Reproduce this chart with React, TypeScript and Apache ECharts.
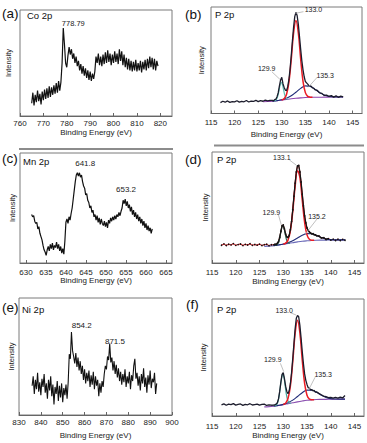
import React, { useEffect, useRef } from "react";
import * as echarts from "echarts";

const FONT = "Liberation Sans, Arial, sans-serif";

// ---------- (a) Co 2p ----------
const coStart = 765;
const coStep = 0.5;
const coY = [
  12, 22, 10, 20, 13, 24, 14, 21, 11, 23, 15, 25, 16, 26, 17, 28, 18, 27, 20, 29, 21, 31, 22, 33, 24, 32,
  50, 83, 68, 50, 46, 57, 65, 58, 63, 54, 59, 50, 56, 47, 52, 43, 49, 40, 47, 38, 45, 36, 43, 34, 42, 33,
  40, 35, 42, 56, 50, 59, 48, 56, 47, 58, 49, 60, 50, 62, 51, 59, 48, 58, 50, 61, 51, 59, 49, 63, 52, 61,
  48, 58, 46, 55, 44, 54, 43, 52, 42, 51, 43, 53, 42, 50, 43, 52, 41, 51, 44, 53, 43, 54, 45, 56, 46, 55,
  44, 54, 43, 52, 47,
];
const coTicks = [760, 770, 780, 790, 800, 810, 820];

// ---------- (c) Mn 2p ----------
const mnStart = 631.4;
const mnStep = 0.26;
const mnY = [
  44, 42, 43, 38, 36, 37, 31, 33, 27, 24, 21, 16, 12, 10, 7, 12, 15, 11, 17, 13, 18, 12, 16, 14,
  19, 13, 17, 11, 15, 9, 13, 8, 20, 37, 40, 36, 42, 39, 45, 50, 58, 66, 74, 80, 82, 79, 82, 78,
  80, 74, 70, 68, 62, 63, 57, 55, 50, 52, 46, 48, 42, 44, 39, 43, 37, 41, 35, 40, 36, 34, 38, 33,
  37, 32, 39, 36, 41, 38, 42, 39, 43, 40, 44, 42, 46, 43, 47, 50, 57, 54, 58, 52, 56, 50, 53, 47,
  51, 44, 48, 42, 46, 40, 44, 38, 42, 36, 40, 34, 38, 32, 36, 30, 34, 29, 32, 27, 31,
];
const mnTicks = [630, 635, 640, 645, 650, 655, 660, 665];

// ---------- (e) Ni 2p ----------
const niStart = 836;
const niStep = 0.5;
const niY = [
  25, 33, 18, 30, 22, 36, 20, 28, 17, 31, 24, 35, 19, 27, 14, 30, 21, 33, 16, 26, 9, 24, 18, 29,
  12, 25, 15, 27, 11, 23, 17, 26, 14, 28, 52, 48, 71, 55, 50, 44, 53, 41, 49, 38, 46, 35, 42, 30,
  39, 27, 36, 29, 38, 24, 34, 26, 37, 22, 33, 25, 30, 16, 27, 19, 29, 24, 35, 42, 39, 50, 47, 61,
  45, 49, 38, 46, 35, 43, 32, 40, 29, 37, 26, 35, 28, 39, 24, 33, 27, 37, 22, 34, 29, 42, 48, 31,
  36, 25, 33, 21, 35, 27, 40, 24, 32, 19, 34, 26, 38, 23, 31, 28, 36, 18, 27,
];
const niTicks = [830, 840, 850, 860, 870, 880, 890, 900];

// ---------- P 2p panels (b), (d), (f) ----------
const pTicks = [115, 120, 125, 130, 135, 140, 145];
const pX = [
  117, 117.5, 118, 118.5, 119, 119.5, 120, 120.5, 121, 121.5, 122, 122.5, 123, 123.5, 124, 124.5, 125, 125.5, 126, 126.5, 127, 127.5,
  128, 128.25, 128.5, 128.75, 129, 129.25, 129.5, 129.75, 130, 130.25, 130.5, 130.75, 131, 131.25, 131.5, 131.75,
  132, 132.25, 132.5, 132.75, 133, 133.25, 133.5, 133.75, 134, 134.25, 134.5, 134.75, 135, 135.25, 135.5, 135.75,
  136, 136.25, 136.5, 136.75, 137,
  137.5, 138, 138.5, 139, 139.5, 140, 140.5, 141, 141.5, 142, 142.5, 143,
];
const bRaw = [
  10.2, 11.5, 10.6, 11.8, 10.4, 11.2, 10.9, 12.0, 10.7, 11.4, 11.0, 12.2, 10.8, 11.6, 11.3, 12.4, 11.1, 12.0, 11.5, 12.6, 11.8, 12.3,
  12.4, 11.9, 13.0, 13.4, 15.8, 19.5, 26.0, 31.5, 34.0, 28.0, 24.5, 22.0, 21.5, 25.0, 31.5, 41.5,
  54.0, 68.0, 81.0, 91.0, 95.0, 92.0, 84.0, 72.5, 60.5, 49.5, 41.0, 34.5, 30.0, 28.8, 27.6, 26.2,
  25.9, 25.4, 24.0, 23.9, 22.5,
  21.8, 19.4, 18.9, 17.0, 17.3, 16.0, 16.8, 15.4, 16.5, 15.2, 16.3, 15.7,
];
const dRaw = [
  16.0, 17.2, 15.8, 16.9, 16.3, 17.5, 15.9, 16.6, 17.1, 15.7, 16.8, 16.2, 17.3, 15.9, 16.7, 16.1, 17.0, 15.8, 16.5, 16.9, 15.6, 16.4,
  16.3, 16.9, 16.6, 17.8, 19.2, 23.0, 28.6, 33.5, 34.2, 30.6, 26.0, 23.5, 23.0, 24.8, 30.0, 37.5,
  48.0, 60.2, 72.0, 82.0, 87.5, 88.0, 82.0, 73.0, 62.0, 51.5, 42.5, 36.2, 31.5, 29.5, 28.0, 27.0,
  26.3, 26.4, 25.5, 25.4, 24.6,
  24.3, 22.6, 22.9, 21.2, 22.0, 20.6, 21.5, 20.3, 21.4, 20.2, 21.3, 20.5,
];
const fRaw = [
  9.5, 10.4, 9.2, 10.1, 9.7, 10.6, 9.3, 9.9, 10.3, 9.1, 10.0, 9.6, 10.5, 9.4, 9.8, 10.2, 9.3, 9.9, 10.1, 9.0, 9.6, 9.2,
  9.4, 9.6, 10.2, 11.3, 14.6, 21.0, 29.0, 35.5, 37.0, 32.0, 25.5, 21.0, 19.0, 21.5, 27.6, 37.0,
  49.0, 62.0, 74.5, 83.5, 86.0, 84.8, 77.5, 66.8, 55.0, 44.6, 36.0, 30.5, 27.0, 24.2, 23.8, 22.4,
  22.6, 21.5, 21.9, 20.5, 20.6,
  19.3, 18.2, 17.0, 16.5, 15.7, 16.0, 15.2, 15.9, 15.3, 16.1, 15.4, 17.5,
];

const redX = [130, 130.5, 131, 131.5, 132, 132.5, 133, 133.5, 134, 134.5, 135, 135.5, 136, 136.5];
const bRed = [12.75, 13.85, 17.8, 28.9, 50.3, 75.45, 87.3, 75.9, 51.2, 30.25, 19.6, 16.05, 15.35, 15.25];
const dRed = [17.0, 17.85, 20.6, 28.95, 46.3, 68.95, 83.1, 77.1, 56.5, 36.5, 25.3, 21.35, 20.5, 20.4];
const fRed = [9.84, 11.0, 14.9, 25.6, 46.15, 70.3, 81.8, 71.05, 47.65, 27.8, 17.8, 14.5, 13.94, 13.95];

const tealX = [128.4, 128.65, 128.9, 129.15, 129.4, 129.65, 129.9, 130.15, 130.4, 130.65, 130.9, 131.15, 131.4];
const bTeal = [11.77, 12.18, 13.37, 16.25, 21.26, 26.7, 29.24, 27.0, 21.86, 17.15, 14.56, 13.64, 13.51];
const dTeal = [15.9, 16.35, 17.6, 20.5, 25.7, 31.25, 33.8, 31.6, 26.4, 21.55, 19.0, 18.05, 17.95];
const fTealX = [128.15, 128.4, 128.65, 128.9, 129.15, 129.4, 129.65, 129.9, 130.15, 130.4, 130.65, 130.9, 131.15, 131.4, 131.65];
const fTeal = [8.56, 8.93, 9.95, 12.48, 17.6, 25.18, 32.56, 35.83, 32.92, 25.92, 18.72, 13.96, 11.77, 11.11, 11.08];

const navyX = [128, 129, 130, 131, 132, 133, 134, 135, 136, 137, 138, 139, 140, 141, 142, 143];
const bNavy = [11.5, 12.1, 12.9, 14.3, 16.6, 20.0, 23.6, 25.9, 25.5, 22.9, 19.7, 17.3, 16.1, 15.6, 15.5, 15.5];
const dNavy = [15.6, 16.25, 17.1, 18.3, 20.1, 22.55, 25.0, 26.5, 26.3, 24.8, 23.0, 21.7, 21.05, 20.85, 20.8, 20.8];
const fNavy = [8.41, 9.06, 9.96, 11.37, 13.55, 16.64, 19.93, 22.1, 22.07, 20.23, 17.74, 15.84, 14.85, 14.5, 14.4, 14.4];

const purpleX = [126, 127, 128, 129, 130, 131, 132, 133, 134, 135, 136, 137, 138, 139, 140, 141, 142, 143];
const bPurple = [11.0, 11.2, 11.5, 12.0, 12.6, 13.2, 13.8, 14.3, 14.7, 15.0, 15.2, 15.25, 15.3, 15.35, 15.4, 15.45, 15.5, 15.5];
const dPurple = [15.0, 15.2, 15.6, 16.2, 16.9, 17.6, 18.3, 19.0, 19.6, 20.0, 20.3, 20.5, 20.6, 20.65, 20.7, 20.75, 20.8, 20.8];
const fPurple = [7.8, 8.0, 8.4, 9.0, 9.7, 10.5, 11.3, 12.1, 12.8, 13.4, 13.8, 14.1, 14.2, 14.25, 14.3, 14.35, 14.4, 14.4];

// peak annotations: [label, x, y] and leader lines [x1, y1, x2, y2]
const aPeaks: [string, number, number][] = [["778.79", 782.8, 87.1]];
const cPeaks: [string, number, number][] = [["641.8", 644.8, 90.6], ["653.2", 655.0, 66.4]];
const ePeaks: [string, number, number][] = [["854.2", 858.7, 76.3], ["871.5", 873.9, 63.2]];
const bPeaks: [string, number, number][] = [["133.0", 136.7, 97.2], ["129.9", 126.8, 42.4], ["135.3", 139.2, 35.7]];
const bLeaders = [[134.6, 95.6, 132.9, 94.1], [127.9, 39.2, 129.6, 32.1], [137.5, 34.0, 135.6, 24.6]];
const dPeaks: [string, number, number][] = [["133.1", 129.7, 95.3], ["129.9", 127.5, 45.9], ["135.2", 137.1, 42.2]];
const dLeaders = [[131.3, 92.8, 132.7, 88.3], [129.0, 43.2, 129.6, 34.2], [137.1, 39.6, 134.6, 25.9]];
const fPeaks: [string, number, number][] = [["133.0", 130.2, 90.3], ["129.9", 127.8, 48.3], ["135.3", 138.4, 35.5]];
const fLeaders = [[131.5, 88.3, 132.7, 86.3], [129.4, 45.0, 130.1, 37.9], [136.7, 33.1, 135.4, 22.8]];

const zip = (xs: number[], ys: number[]) => xs.map((x, i) => [x, ys[i]]);
const grid1 = (start: number, step: number, ys: number[]) => ys.map((y, i) => [start + i * step, y]);

type PanelCfg = {
  grid: { left: number; top: number; width: number; height: number };
  min: number;
  max: number;
  ticks: number[];
  labelMargin: number;
  nameGap: number;
  yNameGap: number;
};

const panels: PanelCfg[] = [
  { grid: { left: 20, top: 10, width: 152, height: 106 }, min: 760, max: 825, ticks: coTicks, labelMargin: 3, nameGap: 12.5, yNameGap: 7.5 },
  { grid: { left: 211, top: 7, width: 151, height: 106.5 }, min: 115, max: 147, ticks: pTicks, labelMargin: 5, nameGap: 16.5, yNameGap: 6 },
  { grid: { left: 20, top: 153, width: 152, height: 110 }, min: 628.5, max: 666.5, ticks: mnTicks, labelMargin: 5, nameGap: 13.5, yNameGap: 4 },
  { grid: { left: 212, top: 152, width: 152, height: 111 }, min: 115, max: 147, ticks: pTicks, labelMargin: 5, nameGap: 14.5, yNameGap: 3 },
  { grid: { left: 19, top: 298, width: 153, height: 117 }, min: 830, max: 900, ticks: niTicks, labelMargin: 3, nameGap: 16.5, yNameGap: 4 },
  { grid: { left: 212, top: 299, width: 152, height: 117 }, min: 115, max: 147, ticks: pTicks, labelMargin: 6, nameGap: 15, yNameGap: 4.5 },
];

const peakMarks = (peaks: [string, number, number][], size: number) => ({
  silent: true,
  symbol: "circle",
  symbolSize: 1,
  itemStyle: { color: "rgba(0,0,0,0)" },
  label: {
    show: true,
    position: "inside",
    formatter: (p: any) => p.name,
    fontSize: size,
    color: "#1a1a1a",
    fontFamily: FONT,
  },
  data: peaks.map(([name, x, y]) => ({ name, coord: [x, y] })),
});

const leaderMarks = (leaders: number[][]) => ({
  silent: true,
  symbol: ["none", "none"],
  label: { show: false },
  lineStyle: { color: "#b0b0b0", width: 0.8, type: "solid" },
  data: leaders.map(([x1, y1, x2, y2]) => [{ coord: [x1, y1] }, { coord: [x2, y2] }]),
});

function lineSeries(i: number, data: number[][], color: string, width: number, extra: any = {}) {
  return {
    type: "line",
    xAxisIndex: i,
    yAxisIndex: i,
    data,
    symbol: "none",
    showSymbol: false,
    silent: true,
    lineStyle: { color, width },
    z: 2,
    ...extra,
  };
}

function buildOption() {
  const grids = panels.map((p) => ({
    ...p.grid,
    show: true,
    borderColor: "#7a7a7a",
    borderWidth: 1,
    backgroundColor: "transparent",
    containLabel: false,
    outerBoundsMode: "none",
  }));
  const xAxes = panels.map((p, i) => ({
    gridIndex: i,
    type: "value",
    min: p.min,
    max: p.max,
    axisLine: { show: true, lineStyle: { color: "#666", width: 1 } },
    axisTick: { show: true, inside: true, length: 3, lineStyle: { color: "#666" }, customValues: p.ticks },
    axisLabel: { show: true, fontSize: 8, color: "#222", margin: p.labelMargin, fontFamily: FONT, customValues: p.ticks },
    splitLine: { show: false },
    name: "Binding Energy (eV)",
    nameLocation: "middle",
    nameGap: p.nameGap,
    nameTextStyle: { fontSize: 8, color: "#222", fontFamily: FONT },
  }));
  const yAxes = panels.map((p, i) => ({
    gridIndex: i,
    type: "value",
    min: 0,
    max: 100,
    axisLine: { show: false },
    axisTick: { show: false },
    axisLabel: { show: false },
    splitLine: { show: false },
    name: "Intensity",
    nameLocation: "middle",
    nameRotate: 90,
    nameGap: p.yNameGap,
    nameTextStyle: { fontSize: 7.5, color: "#222", fontFamily: FONT },
  }));

  const dEnv = zip(pX, dRaw).filter(([x]) => x >= 127.75 && x <= 139.5);

  const series: any[] = [
    // (a)
    lineSeries(0, grid1(coStart, coStep, coY), "#111", 1.2, { markPoint: peakMarks(aPeaks, 7.5) }),
    // (b)
    lineSeries(1, zip(purpleX, bPurple), "#8e44ad", 1.1, { smooth: 0.4 }),
    lineSeries(1, zip(navyX, bNavy), "#1f2a78", 1.1, { smooth: 0.4 }),
    lineSeries(1, zip(tealX, bTeal), "#5dbfb4", 1.2, { smooth: 0.4 }),
    lineSeries(1, zip(redX, bRed), "#ec1c24", 1.5, { smooth: 0.4 }),
    lineSeries(1, zip(pX, bRaw), "#1c1c2c", 1.3, {
      z: 3,
      markPoint: peakMarks(bPeaks, 7),
      markLine: leaderMarks(bLeaders),
    }),
    // (c)
    lineSeries(2, grid1(mnStart, mnStep, mnY), "#111", 1.2, { markPoint: peakMarks(cPeaks, 8) }),
    // (d)
    lineSeries(3, zip(pX, dRaw), "#d9262c", 1.1, {
      symbol: "circle",
      showSymbol: true,
      symbolSize: 1.6,
      itemStyle: { color: "#111", borderWidth: 0 },
      markPoint: peakMarks(dPeaks, 7),
      markLine: leaderMarks(dLeaders),
    }),
    lineSeries(3, zip(purpleX, dPurple), "#6a6ab8", 1.1, { smooth: 0.4 }),
    lineSeries(3, zip(navyX, dNavy), "#1f2a78", 1.1, { smooth: 0.4 }),
    lineSeries(3, zip(tealX, dTeal), "#2c6b55", 1.2, { smooth: 0.4 }),
    lineSeries(3, zip(redX, dRed), "#ec1c24", 1.5, { smooth: 0.4 }),
    lineSeries(3, dEnv, "#161616", 1.3, { z: 3 }),
    // (e)
    lineSeries(4, grid1(niStart, niStep, niY), "#111", 1.1, { markPoint: peakMarks(ePeaks, 8) }),
    // (f)
    lineSeries(5, zip(purpleX, fPurple), "#8a4fb0", 1.1, { smooth: 0.4 }),
    lineSeries(5, zip(navyX, fNavy), "#1f2a78", 1.1, { smooth: 0.4 }),
    lineSeries(5, zip(fTealX, fTeal), "#4aa89c", 1.2, { smooth: 0.4 }),
    lineSeries(5, zip(redX, fRed), "#ec1c24", 1.5, { smooth: 0.4 }),
    lineSeries(5, zip(pX, fRaw), "#1c1c2c", 1.3, {
      z: 3,
      markPoint: peakMarks(fPeaks, 7),
      markLine: leaderMarks(fLeaders),
    }),
  ];

  const txt = (text: string, left: number, top: number, size: number) => ({
    type: "text",
    left,
    top,
    silent: true,
    style: { text, fontSize: size, fontFamily: FONT, fill: "#111" },
  });

  const graphic = [
    txt("(a)", 2, 6, 13.5),
    txt("Co 2p", 27, 10, 9.5),
    txt("(b)", 185, 7, 13.5),
    txt("P 2p", 215, 9, 9.5),
    txt("(c)", 2, 151, 13.5),
    txt("Mn 2p", 23, 156, 9.5),
    txt("(d)", 185, 152, 13.5),
    txt("P 2p", 217, 154, 9.5),
    txt("(e)", 2, 300, 13.5),
    txt("Ni 2p", 22, 304, 9.5),
    txt("(f)", 186, 297, 13.5),
    txt("P 2p", 217, 304, 9.5),
    { type: "rect", silent: true, shape: { x: 19, y: 148, width: 154, height: 2 }, style: { fill: "#8c8c8c" } },
    { type: "rect", silent: true, shape: { x: 214, y: 144.5, width: 150, height: 2 }, style: { fill: "#8c8c8c" } },
  ];

  return {
    animation: false,
    backgroundColor: "#ffffff",
    grid: grids,
    xAxis: xAxes,
    yAxis: yAxes,
    series,
    graphic,
  };
}

export default function App() {
  const ref = useRef<HTMLDivElement>(null);
  useEffect(() => {
    if (!ref.current) return;
    const chart = echarts.init(ref.current, null, { renderer: "svg" });
    chart.setOption(buildOption() as any);
    return () => chart.dispose();
  }, []);
  return (
    <div
      ref={ref}
      style={{ position: "fixed", left: 0, top: 0, width: 367, height: 443, background: "#fff" }}
    />
  );
}
